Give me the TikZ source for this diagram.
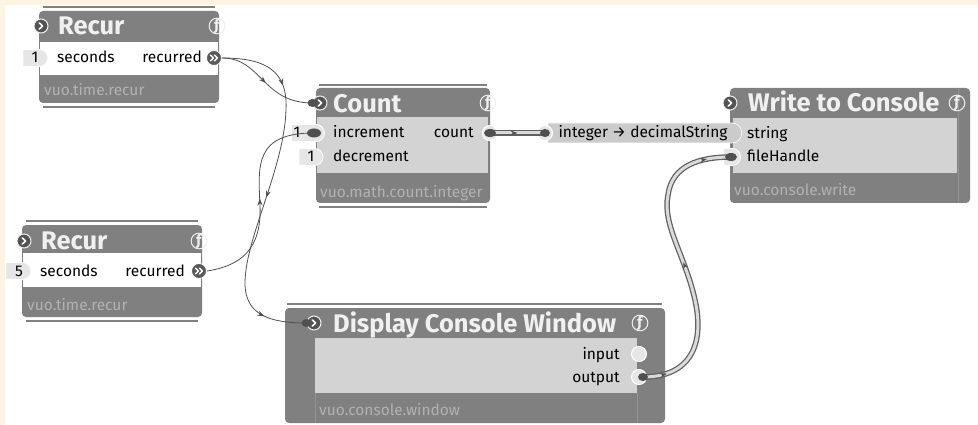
\documentclass[tikz,border=0pt]{standalone}
\usepackage{fontspec}
\setmainfont{Fira Sans}
\usetikzlibrary{arrows.meta,decorations.markings,shapes.misc}

\definecolor{nodegray}{HTML}{808080}
\definecolor{bodygray}{HTML}{D3D3D3}
\definecolor{constgray}{HTML}{E6E6E6}
\definecolor{cablegray}{HTML}{505050}
\definecolor{footgray}{HTML}{B2B2B2}
\definecolor{titlewhite}{HTML}{F0F0F0}
\definecolor{creambg}{HTML}{FDF4E3}

\begin{document}
\begin{tikzpicture}[x=1pt, y=-1pt,
  box/.style={fill=nodegray, rounded corners=4pt},
  bar/.style={draw=nodegray, line width=2.5pt},
  sep/.style={draw=nodegray!85!white, line width=0.6pt},
  title/.style={anchor=base west, inner sep=0pt, text=titlewhite, font=\fontsize{25.5}{26}\selectfont\bfseries},
  lbl/.style={anchor=base west, inner sep=0pt, font=\fontsize{15.5}{16}\selectfont},
  rlbl/.style={lbl, anchor=base east},
  clbl/.style={lbl, anchor=base},
  foot/.style={lbl, text=footgray},
  trig/.style={circle, fill=nodegray!65!black, draw=titlewhite, line width=1pt, minimum size=14pt, inner sep=0pt,
    path picture={\draw[white, line width=1.5pt, line cap=round, line join=round]
      ([xshift=-1.8pt,yshift=3.2pt]path picture bounding box.center) -- ([xshift=1.6pt]path picture bounding box.center)
      -- ([xshift=-1.8pt,yshift=-3.2pt]path picture bounding box.center);}},
  fn/.style={circle, draw=titlewhite, line width=1pt, minimum size=15pt, inner sep=0pt, text=titlewhite,
    font=\fontsize{15}{15}\selectfont\bfseries},
  evout/.style={circle, fill=nodegray!70!black, draw=white, line width=0.8pt, minimum size=15pt, inner sep=0pt,
    path picture={\draw[white, line width=1.4pt, line cap=round, line join=round]
      ([xshift=-3.6pt,yshift=3pt]path picture bounding box.center) -- ([xshift=-0.6pt]path picture bounding box.center)
      -- ([xshift=-3.6pt,yshift=-3pt]path picture bounding box.center)
      ([xshift=0.4pt,yshift=3pt]path picture bounding box.center) -- ([xshift=3.4pt]path picture bounding box.center)
      -- ([xshift=0.4pt,yshift=-3pt]path picture bounding box.center);}},
  dataout/.style={circle, fill=constgray, draw=white, line width=1pt, minimum size=15pt, inner sep=0pt},
  inport/.style={rounded rectangle, rounded rectangle left arc=none, fill=constgray, draw=white, line width=0.8pt,
    minimum height=17pt, inner sep=0pt},
  evcable/.style={draw=cablegray, line width=0.8pt},
  datacable/.style={draw=nodegray!75!black, line width=5.5pt, postaction={draw=bodygray!85!white, line width=3pt}},
  arrowat/.style={postaction={decorate, decoration={markings,
    mark=at position #1 with {\arrow[cablegray]{Stealth[length=7pt,width=5pt]}}}}}
]
\useasboundingbox (0,0) rectangle (978,425);
\fill[white] (0,0) rectangle (978,425);
\fill[creambg] (0,0) rectangle (978,5);
\fill[creambg] (0,0) rectangle (5,425);

% --- Recur (oben) ---
\draw[bar] (43,7) -- (215,7);
\draw[bar] (43,107) -- (215,107);
\fill[box] (39,11) rectangle (219,103);
\fill[white] (40,42) rectangle (218,75);
\node[title] (r1title) at (58,35) {Recur};
\node[trig] (r1trig) at (41,26) {};
\node[fn] (r1fn) at (217,26) {ƒ};
\node[inport, minimum width=25pt] (r1sec) at (35.5,58) {};
\node[clbl] (r1secval) at (35,63) {1};
\node[lbl] (r1seclbl) at (57,63) {seconds};
\node[rlbl] (r1reclbl) at (202,63) {recurred};
\node[evout] (r1out) at (214,58) {};
\node[foot] (r1foot) at (44,96) {vuo.time.recur};

% --- Recur (unten) ---
\draw[bar] (26,221) -- (198,221);
\draw[bar] (26,321) -- (198,321);
\fill[box] (22,225) rectangle (202,317);
\fill[white] (23,253) rectangle (201,287);
\node[title] (r2title) at (41,249) {Recur};
\node[trig] (r2trig) at (24,241) {};
\node[fn] (r2fn) at (199,241) {ƒ};
\node[inport, minimum width=25pt] (r2sec) at (18.5,271) {};
\node[clbl] (r2secval) at (19,276) {5};
\node[lbl] (r2seclbl) at (40,276) {seconds};
\node[rlbl] (r2reclbl) at (185,276) {recurred};
\node[evout] (r2out) at (199,271) {};
\node[foot] (r2foot) at (27,310) {vuo.time.recur};

% --- Count ---
\draw[bar] (319,85) -- (487,85);
\draw[bar] (319,207) -- (487,207);
\fill[box] (316,88) rectangle (490,203);
\fill[bodygray] (317,117) rectangle (488,173);
\node[title] (cnttitle) at (333,113) {Count};
\node[trig] (cnttrig) at (320,103) {};
\node[fn] (cntfn) at (488,103) {ƒ};
\node[inport, minimum width=33pt] (cntinc) at (308,133) {};
\node[clbl] (cntincval) at (297,138) {1};
\node[inport, minimum width=24pt] (cntdec) at (311,157) {};
\node[clbl] (cntdecval) at (311,162) {1};
\node[lbl] (cntinclbl) at (333,138) {increment};
\node[lbl] (cntdeclbl) at (333,162) {decrement};
\node[rlbl] (cntoutlbl) at (474,138) {count};
\node[dataout] (cntout) at (490,133) {};
\node[foot] (cntfoot) at (320,197) {vuo.math.count.integer};
\coordinate (cntincplug) at (314,133);

% --- Write to Console ---
\fill[box] (730,88) rectangle (970,203);
\fill[bodygray] (733,118) rectangle (957,173);
\draw[sep] (958,88) -- (958,203);
\node[title] (wrtitle) at (748,112) {Write to Console};
\node[trig] (wrtrig) at (730,103) {};
\node[fn] (wrfn) at (957,103) {ƒ};
\node[inport, minimum width=9pt, anchor=east] (wrstr) at (741,134) {};
\node[inport, minimum width=9pt, anchor=east] (wrfile) at (741,157) {};
\node[lbl] (wrstrlbl) at (747,139) {string};
\node[lbl] (wrfilelbl) at (747,162) {fileHandle};
\node[foot] (wrfoot) at (734,196) {vuo.console.write};
\coordinate (wrfileplug) at (731,157);

% --- integer -> decimalString ---
\node[rounded rectangle, rounded rectangle left arc=none, fill=bodygray!90!gray, draw=white, line width=0.6pt,
      minimum width=194pt, minimum height=20pt, inner sep=0pt, font=\fontsize{15.5}{16}\selectfont] (conv) at (643,133)
      {integer → decimalString\hspace{5pt}};
\node[dataout] (convin) at (545,133) {};

% --- Display Console Window ---
\draw[bar] (287,304) -- (662,304);
\fill[box] (285,308) rectangle (665,423);
\fill[bodygray] (315,338) rectangle (637,393);
\draw[sep] (315,393) -- (315,423);
\draw[sep] (637,393) -- (637,423);
\node[title] (dcwtitle) at (333,332) {Display Console Window};
\node[trig] (dcwtrig) at (314,323) {};
\node[fn] (dcwfn) at (640,323) {ƒ};
\node[rlbl] (dcwinlbl) at (620,359) {input};
\node[rlbl] (dcwoutlbl) at (620,382) {output};
\node[dataout] (dcwin) at (639,354) {};
\node[dataout] (dcwout) at (639,377) {};
\node[foot] (dcwfoot) at (319,415) {vuo.console.window};
\coordinate (dcwoutplug) at (643,377);

% --- Kabel ---
\draw[evcable, arrowat=0.5] (r1out.east) .. controls (262,58) and (262,103) .. (cnttrig.west);
\draw[evcable, arrowat=0.2, arrowat=0.52, arrowat=0.88] (r1out.east) .. controls (265,58) and (288,70) .. (286,110)
  .. controls (284,170) and (244,240) .. (245,285) .. controls (246,315) and (270,323) .. (dcwtrig.west);
\draw[evcable, arrowat=0.5] (r2out.east) .. controls (240,266) and (262,250) .. (260,205)
  .. controls (258,165) and (255,133) .. (cntincplug);
\draw[datacable, arrowat=0.5] (cntout.center) -- (convin.center);
\draw[datacable, arrowat=0.08, arrowat=0.5, arrowat=0.92] (dcwoutplug) .. controls (690,377) and (705,345) .. (695,300)
  .. controls (685,255) and (662,225) .. (668,195) .. controls (672,165) and (700,157) .. (wrfileplug);

% --- Stecker ---
\fill[cablegray] (cnttrig.west) ellipse (5pt and 4pt);
\fill[cablegray] (cntincplug) ellipse (7pt and 4.5pt);
\fill[cablegray] (cntout.center) ellipse (6pt and 4pt);
\fill[cablegray] (convin.center) ellipse (5pt and 4pt);
\fill[cablegray] (wrfileplug) ellipse (6pt and 4pt);
\fill[cablegray] (dcwoutplug) ellipse (5pt and 4pt);
\fill[cablegray] (dcwtrig.west) ellipse (5pt and 4pt);
\end{tikzpicture}
\end{document}
